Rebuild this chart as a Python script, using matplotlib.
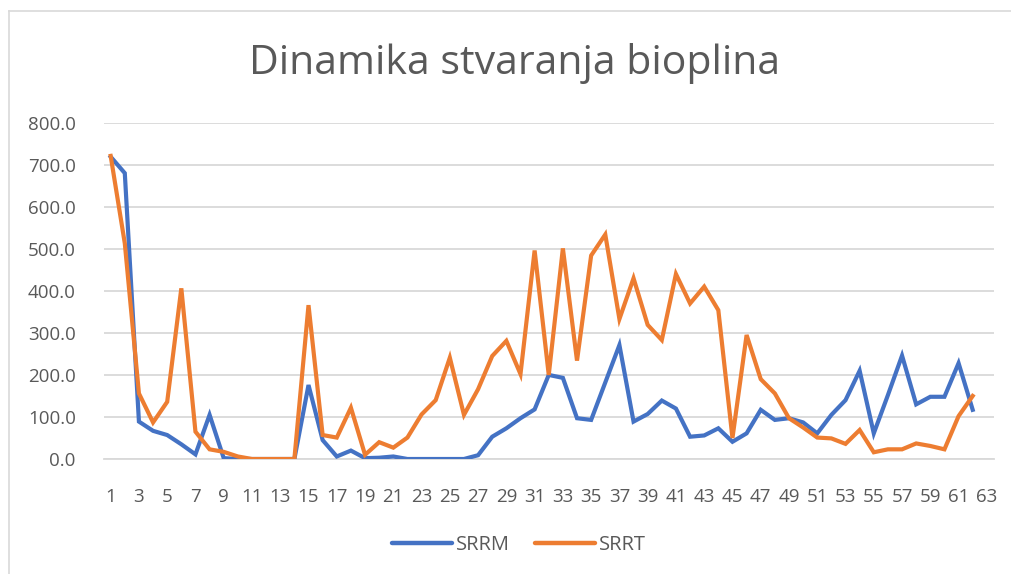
import numpy as np
import matplotlib
matplotlib.use("Agg")
import matplotlib.pyplot as plt
from matplotlib.lines import Line2D

# ── Data ─────────────────────────────────────────────────────────────────────
days = np.arange(1, 63)

srrm = [719, 680, 89, 67, 57, 35, 11, 105, 2, 0,
        0, 0, 0, 0, 176, 45, 6, 20, 2, 3,
        6, 0, 0, 0, 0, 0, 9, 53, 73, 97,
        118, 200, 193, 97, 93, 182, 271, 89, 107, 139,
        120, 53, 56, 73, 41, 61, 117, 93, 97, 87,
        61, 105, 140, 210, 61, 152, 246, 130, 148, 148,
        228, 117]

srrt = [721, 513, 156, 87, 136, 406, 65, 23, 17, 6,
        0, 0, 0, 0, 366, 57, 51, 122, 10, 40,
        27, 51, 106, 140, 241, 105, 166, 245, 281, 202,
        496, 200, 501, 234, 484, 534, 333, 430, 319, 283,
        440, 370, 410, 354, 50, 295, 190, 156, 97, 75,
        51, 49, 36, 69, 16, 23, 23, 37, 31, 23,
        102, 150]

yticks = np.arange(0, 801, 100)
xticks = np.arange(1, 64, 2)

BLUE = "#4472C4"
ORANGE = "#ED7D31"
GRID = "#D9D9D9"
TEXT = "#595959"

plt.rcParams["font.family"] = ["Open Sans", "DejaVu Sans"]

W, H = 1011, 574
fig = plt.figure(figsize=(W / 100, H / 100), dpi=100)

# plot area in pixel terms -> figure fractions
x0, x1 = 103.6, 993.9
y_top, y_bot = 122.7, 459.0
ax = fig.add_axes([x0 / W, 1 - y_bot / H, (x1 - x0) / W, (y_bot - y_top) / H])

ax.plot(days, srrm, color=BLUE, lw=3.0, solid_joinstyle="miter", label="SRRM", zorder=3)
ax.plot(days, srrt, color=ORANGE, lw=3.0, solid_joinstyle="miter", label="SRRT", zorder=3)

ax.set_xlim(0.5, 63.5)
ax.set_ylim(0, 800)
ax.set_yticks(yticks)
ax.set_yticklabels([f"{v:.1f}" for v in yticks])
ax.set_xticks(xticks)
ax.set_xticklabels([str(v) for v in xticks])

ax.yaxis.grid(True, color=GRID, lw=1.3)
ax.set_axisbelow(True)
for s in ["top", "right", "left"]:
    ax.spines[s].set_visible(False)
ax.spines["bottom"].set_color(GRID)
ax.spines["bottom"].set_linewidth(1.3)
ax.tick_params(axis="both", length=0, colors=TEXT, labelsize=13.5)
ax.tick_params(axis="y", pad=20)
ax.tick_params(axis="x", pad=21)

# title
fig.text(515 / W, 1 - 64 / H, "Dinamika stvaranja bioplina",
         ha="center", va="center", fontsize=29.5, color=TEXT)

# chart frame (left and top edges visible in the crop)
fig.add_artist(Line2D([9 / W, 9 / W], [0, 1 - 11 / H], transform=fig.transFigure,
                      color=GRID, lw=1.2))
fig.add_artist(Line2D([9 / W, 1], [1 - 11 / H, 1 - 11 / H], transform=fig.transFigure,
                      color=GRID, lw=1.2))

handles = [Line2D([], [], color=BLUE, lw=3.2, solid_capstyle="round", label="SRRM"),
           Line2D([], [], color=ORANGE, lw=3.2, solid_capstyle="round", label="SRRT")]
leg = fig.legend(handles=handles, loc="center", ncol=2, frameon=False,
                 bbox_to_anchor=(519 / W, 1 - 545 / H), fontsize=14.5,
                 handlelength=3.0, handletextpad=0.2, columnspacing=1.2)
for t in leg.get_texts():
    t.set_color(TEXT)

fig.savefig("out.png", dpi=100)
